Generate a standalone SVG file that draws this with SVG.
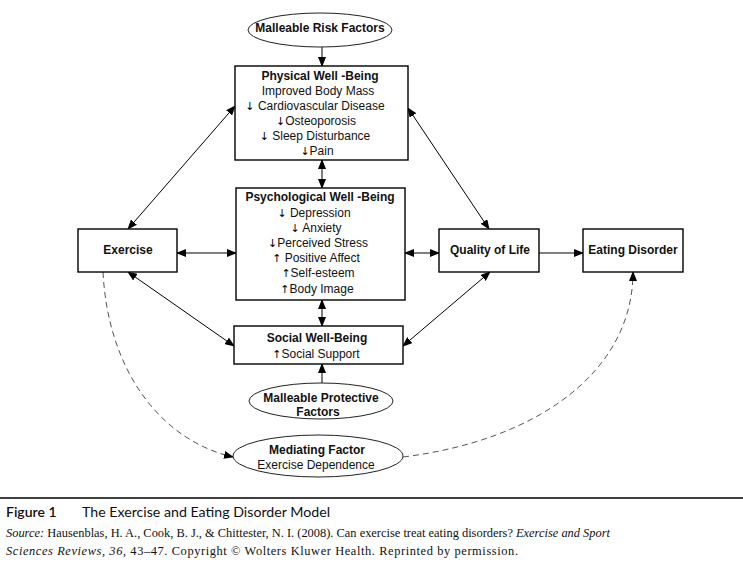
<svg xmlns="http://www.w3.org/2000/svg" width="743" height="563" viewBox="0 0 743 563">
<style>
.box{fill:#fff;stroke:#000;stroke-width:1.4}
.ell{fill:#fff;stroke:#222;stroke-width:1}
.t{font-family:"Liberation Sans",Arial,sans-serif;font-size:12px;fill:#111;text-anchor:middle}
.b{font-weight:bold;font-size:12px}
.a{font-family:"DejaVu Sans",sans-serif;font-size:11px;fill:#000}
.ln{stroke:#000;stroke-width:1;fill:none}
.dash{stroke:#555;stroke-width:1;fill:none;stroke-dasharray:6 4}
.cap{font-family:"Lato","Open Sans",sans-serif;font-size:14px;fill:#111}
.src{font-family:"Liberation Serif","Times New Roman",serif;font-size:12.4px;fill:#111}
.i{font-style:italic}
</style>
<defs>
<marker id="ah" markerUnits="userSpaceOnUse" markerWidth="10" markerHeight="8" refX="9" refY="4" orient="auto-start-reverse" viewBox="0 0 10 8">
<path d="M0,0 L10,4 L0,8 Z" fill="#000"/>
</marker>
</defs>

<g id="connectors">
<line class="ln" x1="322" y1="47" x2="322" y2="66" marker-end="url(#ah)"/>
<line class="ln" x1="322" y1="160" x2="322" y2="188" marker-start="url(#ah)" marker-end="url(#ah)"/>
<line class="ln" x1="322" y1="300" x2="322" y2="326" marker-start="url(#ah)" marker-end="url(#ah)"/>
<line class="ln" x1="322" y1="383" x2="322" y2="364" marker-end="url(#ah)"/>
<line class="ln" x1="177" y1="253" x2="236" y2="253" marker-start="url(#ah)" marker-end="url(#ah)"/>
<line class="ln" x1="405" y1="253" x2="439" y2="253" marker-start="url(#ah)" marker-end="url(#ah)"/>
<line class="ln" x1="539" y1="253" x2="583" y2="253" marker-end="url(#ah)"/>
<line class="ln" x1="128" y1="229" x2="235" y2="106" marker-start="url(#ah)" marker-end="url(#ah)"/>
<line class="ln" x1="408" y1="108" x2="489" y2="229" marker-start="url(#ah)" marker-end="url(#ah)"/>
<line class="ln" x1="128" y1="272" x2="234" y2="346" marker-start="url(#ah)" marker-end="url(#ah)"/>
<line class="ln" x1="490" y1="272" x2="403" y2="346" marker-start="url(#ah)" marker-end="url(#ah)"/>
<path class="dash" d="M103,272 C108,370 160,440 233,457" marker-end="url(#ah)"/>
<path class="dash" d="M403,457 C540,440 633,370 633,272" marker-end="url(#ah)"/>
</g>

<g id="risk">
<ellipse class="ell" cx="320" cy="30" rx="72" ry="17"/>
<text class="t b" x="320" y="32">Malleable Risk Factors</text>
</g>

<g id="physical">
<rect class="box" x="235" y="66" width="173" height="94"/>
<text class="t b" x="320" y="80">Physical Well -Being</text>
<text class="t" x="318" y="95">Improved Body Mass</text>
<text class="t" x="315" y="110"><tspan class="a">↓</tspan> Cardiovascular Disease</text>
<text class="t" x="316" y="125"><tspan class="a">↓</tspan>Osteoporosis</text>
<text class="t" x="315" y="140"><tspan class="a">↓</tspan> Sleep Disturbance</text>
<text class="t" x="317" y="155"><tspan class="a">↓</tspan>Pain</text>
</g>

<g id="psychological">
<rect class="box" x="236" y="188" width="169" height="112"/>
<text class="t b" x="320" y="201">Psychological Well -Being</text>
<text class="t" x="314" y="217"><tspan class="a">↓</tspan>  Depression</text>
<text class="t" x="316" y="232"><tspan class="a">↓</tspan> Anxiety</text>
<text class="t" x="318" y="247"><tspan class="a">↓</tspan>Perceived Stress</text>
<text class="t" x="316" y="262"><tspan class="a">↑</tspan> Positive Affect</text>
<text class="t" x="318" y="277"><tspan class="a">↑</tspan>Self-esteem</text>
<text class="t" x="317" y="293"><tspan class="a">↑</tspan>Body Image</text>
</g>

<g id="social">
<rect class="box" x="234" y="326" width="169" height="38"/>
<text class="t b" x="317" y="342">Social Well-Being</text>
<text class="t" x="316" y="358"><tspan class="a">↑</tspan>Social Support</text>
</g>

<g id="protective">
<ellipse class="ell" cx="321" cy="401" rx="72" ry="18"/>
<text class="t b" x="321" y="402">Malleable Protective</text>
<text class="t b" x="318" y="416">Factors</text>
</g>

<g id="exercise">
<rect class="box" x="78" y="229" width="99" height="43"/>
<text class="t b" x="128" y="254">Exercise</text>
</g>

<g id="quality">
<rect class="box" x="439" y="229" width="100" height="43"/>
<text class="t b" x="490" y="254">Quality of Life</text>
</g>

<g id="eating">
<rect class="box" x="583" y="229" width="100" height="43"/>
<text class="t b" x="633" y="254">Eating Disorder</text>
</g>

<g id="mediating">
<ellipse class="ell" cx="318" cy="456" rx="85" ry="21"/>
<text class="t b" x="317" y="454">Mediating Factor</text>
<text class="t" x="316" y="469">Exercise Dependence</text>
</g>

<g id="caption">
<line x1="0" y1="498" x2="743" y2="498" stroke="#000" stroke-width="1.5"/>
<text class="cap" x="6" y="517" font-weight="600" font-size="15">Figure 1</text>
<text class="cap" x="82" y="517" textLength="248" lengthAdjust="spacingAndGlyphs">The Exercise and Eating Disorder Model</text>
<text class="src" x="6" y="537" textLength="604" lengthAdjust="spacingAndGlyphs"><tspan class="i">Source:</tspan> Hausenblas, H. A., Cook, B. J., &amp; Chittester, N. I. (2008). Can exercise treat eating disorders? <tspan class="i">Exercise and Sport</tspan></text>
<text class="src" x="6" y="555" textLength="512" lengthAdjust="spacing"><tspan class="i">Sciences Reviews, 36,</tspan> 43–47. Copyright © Wolters Kluwer Health. Reprinted by permission.</text>
</g>
</svg>
